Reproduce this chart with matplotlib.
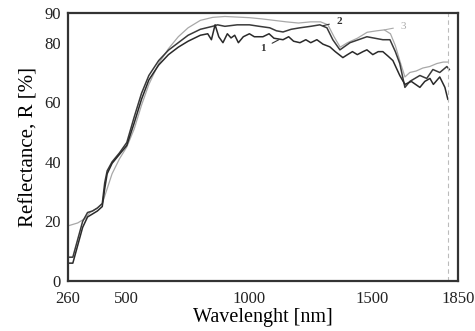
import matplotlib
matplotlib.use("Agg")
import matplotlib.pyplot as plt

plt.rcParams['font.family'] = ['Liberation Serif', 'DejaVu Serif']

# curve 1 (dark, jagged)
wl_1 = [260, 280, 300, 320, 340, 360, 380, 400, 410, 420, 440, 470, 500, 530, 560, 590,
        630, 670, 710, 750, 800, 830, 845, 860, 875, 892, 910, 925, 940, 955, 975, 1000,
        1020, 1055, 1080, 1100, 1137, 1160, 1180, 1206, 1230, 1250, 1275, 1300, 1328, 1350,
        1381, 1400, 1420, 1440, 1463, 1479, 1503, 1525, 1544, 1565, 1585, 1613, 1634, 1660,
        1695, 1715, 1736, 1750, 1776, 1797, 1809]
r_1 = [6, 6, 12, 18, 21.5, 22.5, 23.5, 25, 31, 36, 39.5, 42.5, 45.5, 53, 61, 67.5,
       72.5, 76, 78.5, 80.5, 82.5, 83, 81, 86, 82, 80, 83, 81.6, 82.5, 80, 82, 83,
       82, 82, 83, 81.5, 81, 82, 80.5, 80, 81, 80, 81, 79.5, 78.6, 77,
       75, 76, 77, 76, 77, 77.6, 76, 77, 77, 75.5, 74, 69, 66, 67,
       65, 67, 68, 66, 68.5, 65, 61]

# curve 2 (dark)
wl_2 = [260, 280, 300, 320, 340, 360, 380, 400, 410, 420, 440, 470, 500, 530, 560, 590,
        630, 670, 710, 750, 800, 850, 870, 900, 950, 1000, 1040, 1083, 1110, 1137, 1170,
        1206, 1250, 1287, 1316, 1340, 1369, 1410, 1479, 1544, 1573, 1595, 1613, 1634, 1654,
        1695, 1723, 1748, 1776, 1805, 1815]
r_2 = [8, 8, 14, 20, 23, 23.5, 24.5, 26, 33, 37, 40, 43, 46.5, 55, 63, 69,
       74, 77.5, 80, 82.5, 84.5, 85.5, 86, 85.5, 86, 86, 85.5, 85, 84, 83.6, 84.5,
       85, 85.5, 86, 85, 81, 77.6, 80, 82, 81, 81, 77, 73, 65, 67,
       69, 68, 71, 70, 72, 71]

# curve 3 (light grey)
wl_3 = [260, 300, 330, 350, 380, 400, 420, 440, 470, 500, 530, 560, 590, 630, 670, 710,
        750, 800, 850, 900, 950, 1000, 1050, 1100, 1150, 1200, 1250, 1290, 1320, 1345,
        1370, 1400, 1440, 1480, 1520, 1550, 1575, 1595, 1613, 1634, 1654, 1680, 1707, 1735,
        1764, 1790, 1809]
r_3 = [18.5, 19.5, 21, 23, 24.5, 26, 31, 36, 41, 45, 51, 59, 66, 73, 78, 82,
       85, 87.5, 88.5, 88.8, 88.6, 88.4, 88, 87.5, 87, 86.6, 87, 87, 86, 82,
       78.5, 80, 81.5, 83.5, 84, 84.3, 83, 79, 74, 68.5, 70, 70.5, 71.5, 72,
       73, 73.5, 73.5]

x_ticks = [260, 500, 1000, 1500, 1850]
y_ticks = [0, 20, 40, 60, 80, 90]

fig = plt.figure(figsize=(4.75, 3.31), dpi=100)
ax = fig.add_axes([0.143, 0.151, 0.821, 0.810])

ax.plot(wl_3, r_3, color='#a8a8a8', lw=0.9)
ax.plot(wl_2, r_2, color='#3a3a3a', lw=1.1)
ax.plot(wl_1, r_1, color='#2a2a2a', lw=1.1)
ax.axvline(1809, color='#bbbbbb', lw=0.8, ls=(0, (4, 3)))

# curve labels with leader lines
ax.annotate('1', xy=(1120, 81), xytext=(1055, 78.2), fontsize=8, fontweight='bold',
            color='#333333', ha='center', va='center',
            arrowprops=dict(arrowstyle='-', color='#333333', lw=0.8, shrinkA=3, shrinkB=0))
ax.annotate('2', xy=(1300, 85.7), xytext=(1365, 87), fontsize=8, fontweight='bold',
            color='#333333', ha='center', va='center',
            arrowprops=dict(arrowstyle='-', color='#333333', lw=0.8, shrinkA=3, shrinkB=0))
ax.annotate('3', xy=(1550, 84.3), xytext=(1626, 85.5), fontsize=8,
            color='#aaaaaa', ha='center', va='center',
            arrowprops=dict(arrowstyle='-', color='#aaaaaa', lw=0.8, shrinkA=3, shrinkB=0))

ax.set_xlim(260, 1850)
ax.set_ylim(0, 90)
ax.set_xticks(x_ticks)
ax.set_yticks(y_ticks)
ax.tick_params(axis='both', length=0, labelsize=12, colors='#222222')
ax.tick_params(axis='x', pad=7)
ax.tick_params(axis='y', pad=5)
for s in ax.spines.values():
    s.set_linewidth(1.6)
    s.set_color('#333333')

ax.set_xlabel('Wavelenght [nm]', fontsize=14.5, labelpad=1)
ax.set_ylabel('Reflectance, R [%]', fontsize=15, labelpad=4)

fig.savefig('out.png', dpi=100)
